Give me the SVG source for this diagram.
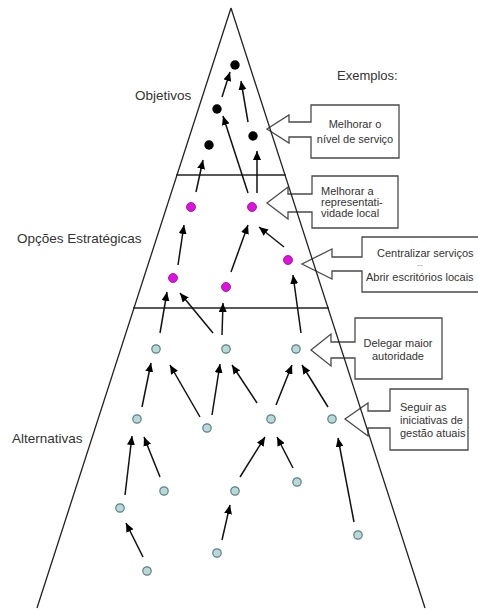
<svg xmlns="http://www.w3.org/2000/svg" width="478" height="610" viewBox="0 0 478 610">
  <style>
    .lbl { font-family: "Liberation Sans", Arial, sans-serif; fill: #333; }
    .big { font-size: 13.5px; }
    .small { font-size: 11px; }
    .call { fill: #fff; stroke: #4a4a4a; stroke-width: 1.3; stroke-linejoin: miter; }
    .edge { stroke: #111; stroke-width: 1.5; fill: none; marker-end: url(#head); }
    .obj { fill: #000; }
    .opt { fill: #e010e0; stroke: #8a108a; stroke-width: 0.8; }
    .alt { fill: #b9d9d9; stroke: #5d7f86; stroke-width: 1.2; }
    .frame { fill: none; stroke: #222; stroke-width: 1.3; }
  </style>
  <defs>
    <marker id="head" markerUnits="userSpaceOnUse" markerWidth="10" markerHeight="8" refX="9" refY="4" orient="auto">
      <path d="M0,0 L9,4 L0,8 Z" fill="#000"/>
    </marker>
  </defs>
  <rect width="478" height="610" fill="#fff"/>

  <!-- example callouts -->
  <g id="callout-servico">
    <path class="call" d="M311,105 H399 V158 H311 V137 H289 V143 L267,129 L289,115 V122 H311 Z"/>
    <text class="lbl small" x="355" y="128" text-anchor="middle">Melhorar o</text>
    <text class="lbl small" x="355" y="143" text-anchor="middle">nível de serviço</text>
  </g>
  <g id="callout-representatividade">
    <path class="call" d="M312,176 H398 V228 H312 V212 H288 V219 L267,203 L288,187 V194 H312 Z"/>
    <text class="lbl small" x="321" y="195">Melhorar a</text>
    <text class="lbl small" x="321" y="206">representati-</text>
    <text class="lbl small" x="321" y="217">vidade local</text>
  </g>
  <g id="callout-servicos">
    <path class="call" d="M362,237 H480 V292 H362 V271 H332 V279 L302,264 L332,249 V257 H362 Z"/>
    <text class="lbl small" x="377" y="257">Centralizar serviços</text>
    <text class="lbl" x="420" y="266" font-size="7" text-anchor="middle">...</text>
    <text class="lbl small" x="366" y="281">Abrir escritórios locais</text>
  </g>
  <g id="callout-autoridade">
    <path class="call" d="M355,318 H442 V379 H355 V358 H331 V366 L311,350 L331,334 V342 H355 Z"/>
    <text class="lbl small" x="398" y="347" text-anchor="middle">Delegar maior</text>
    <text class="lbl small" x="398" y="360" text-anchor="middle">autoridade</text>
  </g>
  <g id="callout-iniciativas">
    <path class="call" d="M390,389 H468 V450 H390 V428 H368 V436 L345,419 L368,403 V411 H390 Z"/>
    <text class="lbl small" x="400" y="411">Seguir as</text>
    <text class="lbl small" x="400" y="424">iniciativas de</text>
    <text class="lbl small" x="400" y="437">gestão atuais</text>
  </g>

  <!-- pyramid outline and level dividers -->
  <g id="pyramid">
    <path class="frame" d="M231,8 L37,608 M231,8 L425,608"/>
    <line class="frame" x1="176" y1="175" x2="286" y2="175" stroke-width="1.6"/>
    <line class="frame" x1="133" y1="308" x2="329" y2="308" stroke-width="1.6"/>
  </g>

  <!-- level labels -->
  <g id="labels">
    <text class="lbl big" x="135" y="100">Objetivos</text>
    <text class="lbl" x="337" y="80" font-size="13px">Exemplos:</text>
    <text class="lbl big" x="17" y="243">Opções Estratégicas</text>
    <text class="lbl big" x="12" y="443">Alternativas</text>
  </g>

  <!-- connectors -->
  <g id="connectors">
    <line class="edge" x1="222" y1="97" x2="230" y2="72"/>
    <line class="edge" x1="248" y1="122" x2="241" y2="81"/>
    <line class="edge" x1="248" y1="193" x2="223" y2="116"/>
    <line class="edge" x1="257" y1="193" x2="257" y2="151"/>
    <line class="edge" x1="196" y1="192" x2="203" y2="160"/>

    <line class="edge" x1="178" y1="265" x2="184" y2="225"/>
    <line class="edge" x1="231" y1="272" x2="248" y2="225"/>
    <line class="edge" x1="284" y1="247" x2="259" y2="227"/>

    <line class="edge" x1="160" y1="333" x2="167" y2="292"/>
    <line class="edge" x1="213" y1="333" x2="180" y2="293"/>
    <line class="edge" x1="222" y1="335" x2="223" y2="303"/>
    <line class="edge" x1="301" y1="333" x2="293" y2="275"/>

    <line class="edge" x1="142" y1="407" x2="151" y2="363"/>
    <line class="edge" x1="200" y1="417" x2="170" y2="365"/>
    <line class="edge" x1="212" y1="415" x2="220" y2="364"/>
    <line class="edge" x1="257" y1="403" x2="232" y2="365"/>
    <line class="edge" x1="276" y1="405" x2="292" y2="365"/>
    <line class="edge" x1="328" y1="407" x2="302" y2="365"/>

    <line class="edge" x1="125" y1="495" x2="132" y2="436"/>
    <line class="edge" x1="160" y1="477" x2="144" y2="437"/>
    <line class="edge" x1="240" y1="477" x2="265" y2="437"/>
    <line class="edge" x1="293" y1="468" x2="277" y2="437"/>
    <line class="edge" x1="354" y1="522" x2="338" y2="438"/>

    <line class="edge" x1="143" y1="557" x2="126" y2="523"/>
    <line class="edge" x1="222" y1="540" x2="230" y2="505"/>
  </g>

  <!-- objectives -->
  <g id="obj-1"><circle class="obj" cx="235" cy="65" r="4.7"/></g>
  <g id="obj-2"><circle class="obj" cx="217" cy="109" r="4.7"/></g>
  <g id="obj-3"><circle class="obj" cx="253" cy="136" r="4.7"/></g>
  <g id="obj-4"><circle class="obj" cx="209" cy="145" r="4.7"/></g>

  <!-- strategic options -->
  <g id="opt-1"><circle class="opt" cx="191" cy="207" r="4.5"/></g>
  <g id="opt-2"><circle class="opt" cx="252" cy="207" r="4.5"/></g>
  <g id="opt-3"><circle class="opt" cx="288" cy="260" r="4.5"/></g>
  <g id="opt-4"><circle class="opt" cx="173" cy="278" r="4.5"/></g>
  <g id="opt-5"><circle class="opt" cx="226" cy="287" r="4.5"/></g>

  <!-- alternatives -->
  <g id="alt-1"><circle class="alt" cx="156" cy="349" r="4.2"/></g>
  <g id="alt-2"><circle class="alt" cx="226" cy="349" r="4.2"/></g>
  <g id="alt-3"><circle class="alt" cx="296" cy="349" r="4.2"/></g>
  <g id="alt-4"><circle class="alt" cx="137" cy="419" r="4.2"/></g>
  <g id="alt-5"><circle class="alt" cx="207" cy="428" r="4.2"/></g>
  <g id="alt-6"><circle class="alt" cx="271" cy="419" r="4.2"/></g>
  <g id="alt-7"><circle class="alt" cx="332" cy="419" r="4.2"/></g>
  <g id="alt-8"><circle class="alt" cx="164" cy="491" r="4.2"/></g>
  <g id="alt-9"><circle class="alt" cx="235" cy="491" r="4.2"/></g>
  <g id="alt-10"><circle class="alt" cx="297" cy="482" r="4.2"/></g>
  <g id="alt-11"><circle class="alt" cx="120" cy="508" r="4.2"/></g>
  <g id="alt-12"><circle class="alt" cx="358" cy="535" r="4.2"/></g>
  <g id="alt-13"><circle class="alt" cx="217" cy="553" r="4.2"/></g>
  <g id="alt-14"><circle class="alt" cx="147" cy="571" r="4.2"/></g>
</svg>
